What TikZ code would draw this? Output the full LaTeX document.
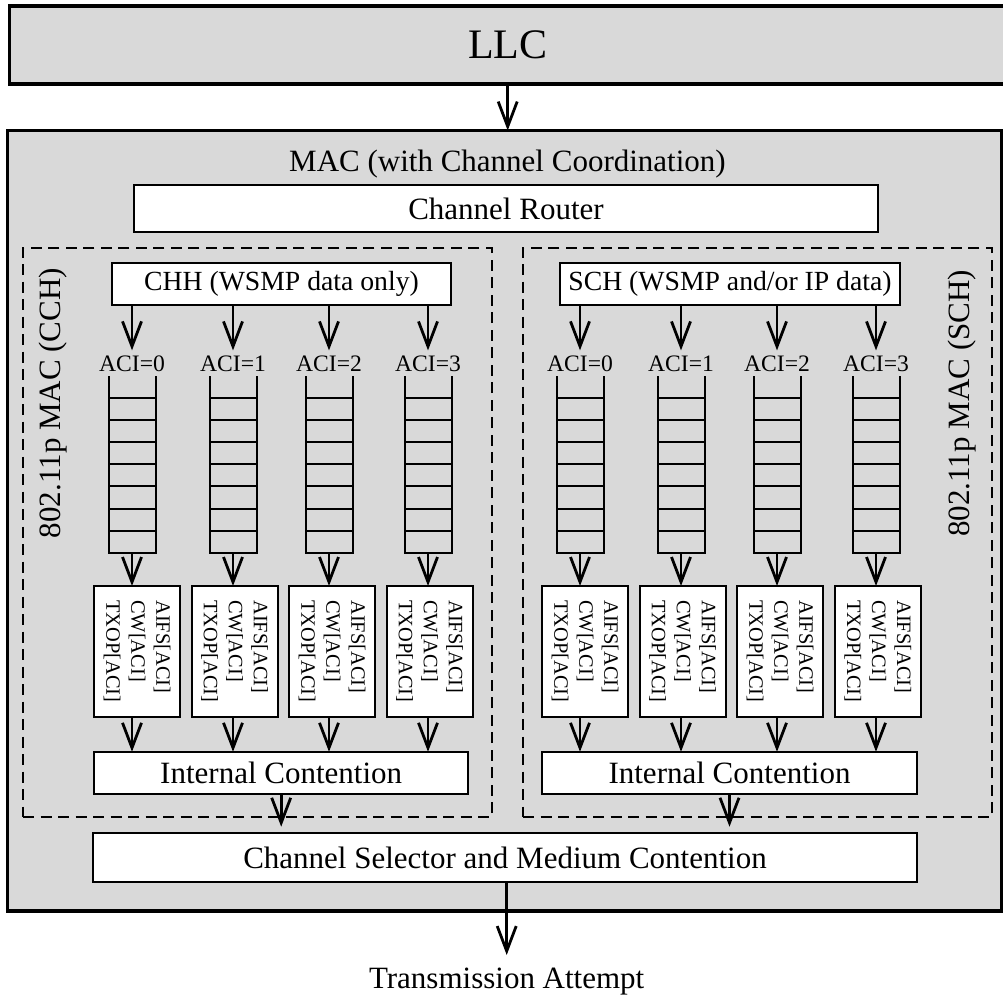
\documentclass[tikz,border=0pt]{standalone}
\usepackage{fontspec}
\setmainfont{Liberation Serif}
\usetikzlibrary{arrows.meta,calc}
\definecolor{layergray}{HTML}{D9D9D9}
\newcommand{\bigtxt}{\fontsize{31}{37}\selectfont}
\newcommand{\chantxt}{\fontsize{27.7}{33}\selectfont}
\newcommand{\acitxt}{\fontsize{23.6}{28}\selectfont}
\newcommand{\edcatxt}{\fontsize{20.4}{25}\selectfont}
\newcommand{\llctxt}{\fontsize{42}{50}\selectfont}

\begin{document}
\begin{tikzpicture}[x=1pt,y=-1pt,
  layer/.style={draw,line width=3.5pt,fill=layergray,inner sep=0pt,outer sep=0pt},
  wbox/.style={draw,line width=2pt,fill=white,inner sep=0pt,outer sep=0pt,font=\bigtxt},
  group/.style={draw,line width=2pt,dash pattern=on 11pt off 6.5pt,inner sep=0pt,outer sep=0pt},
  edca/.style={draw,line width=2pt,fill=white,inner sep=0pt,outer sep=0pt,
    minimum width=86pt,minimum height=130.7pt},
  edcatext/.style={rotate=-90,align=left,font=\edcatxt,inner sep=0pt},
  acilabel/.style={font=\acitxt,anchor=base,inner sep=5.5pt},
  sidelabel/.style={font=\bigtxt,rotate=90,anchor=base,inner sep=0pt},
  qslot/.style={inner sep=0pt,outer sep=0pt,minimum width=47pt,minimum height=176.7pt},
  qline/.style={line width=2pt},
  flow/.style={line width=2.8pt,-{Straight Barb[length=25pt,width=19pt]}},
]
\useasboundingbox (0,0) rectangle (1003,1001);
\clip (0,0) rectangle (1003,1001);

% upper layer
\node[layer,minimum width=996.4pt,minimum height=78pt,font=\llctxt] (llc) at (507.7,45) {LLC};

% MAC layer with its title
\node[layer,minimum width=994pt,minimum height=780.5pt] (mac) at (504.5,520.75) {};
\draw[flow] (llc.south) -- (llc.south |- mac.north);
\node[font=\bigtxt,anchor=base,inner sep=0pt] (mactitle) at (507.5,171.7) {MAC (with Channel Coordination)};

\node[wbox,minimum width=744pt,minimum height=47pt] (router) at (506,208.5) {Channel Router};

% the two channel groups
\node[group,minimum width=468.7pt,minimum height=569pt] (grpL) at (257.4,532.5) {};
\node[group,minimum width=468.7pt,minimum height=569pt] (grpR) at (757.4,532.5) {};
\node[sidelabel] (lblL) at (60.5,403) {802.11p MAC (CCH)};
\node[sidelabel] (lblR) at (969,403.3) {802.11p MAC (SCH)};

\node[wbox,font=\chantxt,minimum width=339pt,minimum height=42pt] (topL) at (281.5,284) {CHH (WSMP data only)};
\node[wbox,font=\chantxt,minimum width=340pt,minimum height=42pt] (topR) at (730,284) {SCH (WSMP and/or IP data)};

\node[wbox,minimum width=374.3pt,minimum height=42.3pt] (icL) at (281.2,772.9) {Internal Contention};
\node[wbox,minimum width=374.3pt,minimum height=42.3pt] (icR) at (729.5,772.9) {Internal Contention};

% access categories: label, queue, EDCA parameters
\foreach \dx/\sd in {0/L,448/R}{
  \foreach \i/\n/\qx/\bx in {1/0/132/137,2/1/233/234.5,3/2/329/332,4/3/428/429.7}{
    \node[acilabel] (aci\sd\i) at (\qx+\dx,371.7) {ACI=\n};
    \draw[flow] (top\sd.south -| aci\sd\i) -- (aci\sd\i.north);
    \node[qslot] (q\sd\i) at (\qx+\dx,464.35) {};
    \draw[qline] (q\sd\i.north west) -- (q\sd\i.south west) -- (q\sd\i.south east) -- (q\sd\i.north east);
    \foreach \k in {1,...,7}{
      \draw[qline] ($(q\sd\i.north west)!\k/8!(q\sd\i.south west)$) -- ($(q\sd\i.north east)!\k/8!(q\sd\i.south east)$);
    }
    \node[edca] (e\sd\i) at (\bx+\dx,651.3) {};
    \node[edcatext] (et\sd\i) at (e\sd\i) {AIFS[ACI]\\CW[ACI]\\TXOP[ACI]};
    \draw[flow] (q\sd\i.south) -- (q\sd\i.south |- e\sd\i.north);
    \draw[flow] (q\sd\i.south |- e\sd\i.south) -- (q\sd\i.south |- ic\sd.north);
  }
}

\node[wbox,minimum width=823.4pt,minimum height=49pt] (cs) at (505,857.8) {Channel Selector and Medium Contention};
\draw[flow,shorten >=6.6pt] (icL.south) -- (icL.south |- cs.north);
\draw[flow,shorten >=6.6pt] (icR.south) -- (icR.south |- cs.north);

\node[font=\bigtxt,anchor=base,inner sep=0pt] (tx) at (506.7,988) {Transmission Attempt};
\coordinate (txtop) at (506.7,955);
\draw[flow] (cs.south -| txtop) -- (txtop);
\end{tikzpicture}
\end{document}
